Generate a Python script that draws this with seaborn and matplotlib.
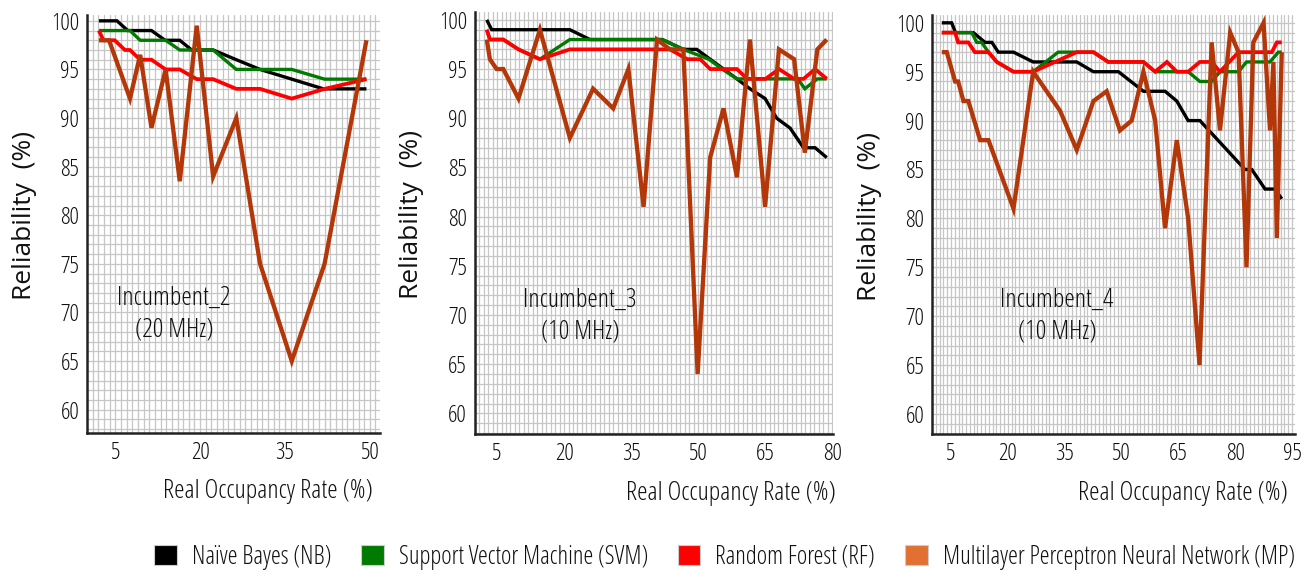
import matplotlib
matplotlib.use("Agg")
import matplotlib.pyplot as plt
from matplotlib.patches import Patch
from matplotlib.ticker import MultipleLocator
from matplotlib.font_manager import FontProperties
import pandas as pd
import seaborn as sns

# ---------------- data ----------------
models = ["Naïve Bayes (NB)", "Support Vector Machine (SVM)",
          "Random Forest (RF)", "Multilayer Perceptron Neural Network (MP)"]
line_colors = ["#000000", "#007A00", "#FF0000", "#B4370A"]
legend_colors = ["#000000", "#007A00", "#FF0000", "#E27032"]

# Incumbent_2 (20 MHz)
nb2_x = [2.1, 5.3, 7.2, 11.4, 13.8, 16.4, 18.5, 22.3, 26.4, 30.6, 36.2, 41.8, 49.4]
nb2_y = [100, 100, 99, 99, 98, 98, 97, 97, 96, 95, 94, 93, 93]
svm2_x = [2.1, 7.6, 9.4, 13.9, 16.4, 22.3, 26.4, 36.2, 42.0, 49.4]
svm2_y = [99, 99, 98, 98, 97, 97, 95, 95, 94, 94]
rf2_x = [2.1, 2.9, 4.9, 6.7, 7.6, 9.4, 11.4, 13.9, 16.4, 19.4, 22.3, 26.4, 30.6, 36.2, 42.0, 49.4]
rf2_y = [99, 98, 98, 97, 97, 96, 96, 95, 95, 94, 94, 93, 93, 92, 93, 94]
mp2_x = [2.1, 3.9, 7.6, 9.4, 11.4, 13.9, 16.4, 19.4, 22.3, 26.4, 30.6, 36.2, 42.0, 49.4]
mp2_y = [98, 98, 92, 96.5, 89, 95, 83.5, 99.5, 84, 90, 75, 65, 75, 98]

# Incumbent_3 (10 MHz)
nb3_x = [2.7, 3.8, 21.3, 25.8, 42.0, 46.7, 49.7, 52.7, 58.7, 61.6, 65.0, 67.6, 70.6, 73.6, 76.2, 78.8]
nb3_y = [100, 99, 99, 98, 98, 97, 97, 96, 94, 93, 92, 90, 89, 87, 87, 86]
svm3_x = [2.7, 3.4, 6.4, 9.8, 14.6, 21.3, 42.0, 46.7, 52.4, 55.4, 58.7, 72.3, 73.9, 76.7, 78.8]
svm3_y = [99, 98, 98, 97, 96, 98, 98, 97, 96, 95, 94, 94, 93, 94, 94]
rf3_x = [2.7, 3.4, 6.4, 9.8, 14.6, 21.3, 43.7, 47.6, 50.5, 52.7, 58.7, 61.0, 65.1, 68.1, 71.5, 73.6, 76.2, 78.8]
rf3_y = [99, 98, 98, 97, 96, 97, 97, 96, 96, 95, 95, 94, 94, 95, 94, 94, 95, 94]
mp3_x = [2.7, 3.4, 4.9, 6.4, 9.8, 14.6, 21.3, 26.5, 31.0, 34.4, 37.8, 40.8, 43.7, 46.7, 49.9,
         52.7, 55.7, 58.7, 61.6, 65.0, 68.1, 71.5, 73.9, 76.7, 78.8]
mp3_y = [98, 96, 95, 95, 92, 99, 88, 93, 91, 95, 81, 98, 97, 97, 64,
         86, 91, 84, 98, 81, 97, 96, 86.5, 97, 98]

# Incumbent_4 (10 MHz)
nb4_x = [2.6, 5.2, 6.2, 10.9, 14.0, 15.8, 17.5, 21.5, 26.7, 38.2, 42.6, 49.2, 55.8, 61.5,
         64.6, 67.6, 70.7, 82.6, 84.4, 87.9, 90.5, 92.3]
nb4_y = [100, 100, 99, 99, 98, 98, 97, 97, 96, 96, 95, 95, 93, 93,
         92, 90, 90, 85, 85, 83, 83, 82]
svm4_x = [2.6, 6.2, 10.5, 11.8, 13.1, 14.9, 17.1, 21.5, 26.7, 33.3, 42.6, 46.5, 55.8, 58.9,
          67.6, 70.7, 73.8, 76.0, 80.9, 83.0, 89.2, 91.4, 92.3]
svm4_y = [99, 99, 99, 98, 98, 97, 96, 95, 95, 97, 97, 96, 96, 95,
          95, 94, 94, 95, 95, 96, 96, 97, 97]
rf4_x = [2.6, 6.1, 6.9, 9.6, 11.3, 14.9, 17.1, 21.5, 26.7, 38.2, 42.6, 46.5, 55.8, 58.9,
         62.0, 64.6, 67.6, 70.7, 73.8, 76.0, 80.9, 89.7, 91.0, 92.3]
rf4_y = [99, 99, 98, 98, 97, 97, 96, 95, 95, 97, 97, 96, 96, 95,
         96, 95, 95, 96, 96, 95, 97, 97, 98, 98]
mp4_x = [2.6, 3.9, 6.1, 6.9, 8.3, 9.6, 12.7, 14.9, 21.5, 26.7, 33.8, 38.2, 42.6, 46.1, 49.6,
         52.7, 55.8, 58.9, 61.5, 64.6, 67.6, 70.6, 73.8, 76.0, 78.7, 80.9, 83.0, 84.8, 87.5,
         89.2, 90.1, 91.0, 92.3]
mp4_y = [97, 97, 94, 94, 92, 92, 88, 88, 81, 95, 91, 87, 92, 93, 89,
         90, 95, 90, 79, 88, 80, 65, 98, 89, 99, 97, 75, 98, 100,
         89, 96, 78, 97]

panel_titles = ["Incumbent_2\n(20 MHz)", "Incumbent_3\n(10 MHz)", "Incumbent_4\n(10 MHz)"]
x_ticks = [[5, 20, 35, 50], [5, 20, 35, 50, 65, 80], [5, 20, 35, 50, 65, 80, 95]]
y_ticks = [60, 65, 70, 75, 80, 85, 90, 95, 100]

panels = [
    [(nb2_x, nb2_y), (svm2_x, svm2_y), (rf2_x, rf2_y), (mp2_x, mp2_y)],
    [(nb3_x, nb3_y), (svm3_x, svm3_y), (rf3_x, rf3_y), (mp3_x, mp3_y)],
    [(nb4_x, nb4_y), (svm4_x, svm4_y), (rf4_x, rf4_y), (mp4_x, mp4_y)],
]

# ---------------- style ----------------
sns.set_theme(style="white")
plt.rcParams["font.family"] = ["Open Sans", "DejaVu Sans"]
plt.rcParams["font.stretch"] = "condensed"
plt.rcParams["text.color"] = "#111111"
plt.rcParams["axes.labelcolor"] = "#111111"
plt.rcParams["xtick.color"] = "#111111"
plt.rcParams["ytick.color"] = "#111111"

# the vertical axis titles use the regular-width face
ylabel_font = FontProperties(family=["Open Sans", "DejaVu Sans"], stretch="normal",
                             weight="normal", size=19)

W, H = 1310, 584
fig = plt.figure(figsize=(W / 100, H / 100), dpi=100)

# axes boxes in pixels: left, right, top, bottom
boxes = [(87, 380, 15, 433), (474.7, 833, 12, 434), (932, 1295, 15, 434)]
xlims = [(0, 51.8), (0, 80.2), (0, 95.8)]
ylims = [(57.6, 100.6), (57.9, 100.8), (57.95, 100.8)]
ylabel_x = [-0.215, -0.175, -0.171]
xlabel_x = [0.616, 0.715, 0.691]
title_pos = [(15.4, 69.8), (23.6, 69.9), (33.0, 70.0)]
line_widths = [2.4, 2.4, 2.7, 3.1]

fs = 17
for i, series in enumerate(panels):
    l, r, t, b = boxes[i]
    ax = fig.add_axes([l / W, (H - b) / H, (r - l) / W, (b - t) / H])

    rows = []
    for name, (xs, ys) in zip(models, series):
        rows += [{"rate": x, "reliability": y, "model": name} for x, y in zip(xs, ys)]
    df = pd.DataFrame(rows)
    sns.lineplot(data=df, x="rate", y="reliability", hue="model", hue_order=models,
                 palette=line_colors, estimator=None, sort=False, legend=False, ax=ax)
    for ln, lw in zip(ax.lines, line_widths):
        ln.set_linewidth(lw)
        ln.set_solid_joinstyle("miter")
        ln.set_solid_capstyle("butt")

    ax.set_xlim(*xlims[i])
    ax.set_ylim(*ylims[i])
    ax.set_xticks(x_ticks[i])
    ax.set_yticks(y_ticks)
    ax.xaxis.set_minor_locator(MultipleLocator(1))
    ax.yaxis.set_minor_locator(MultipleLocator(1))
    ax.grid(which="both", color="#c6c6c6", linewidth=0.9)
    ax.set_axisbelow(True)

    for side in ("top", "right"):
        ax.spines[side].set_visible(False)
    for side in ("left", "bottom"):
        ax.spines[side].set_linewidth(1.8)
        ax.spines[side].set_color("#222222")

    ax.tick_params(axis="x", which="major", direction="in", length=7.5, width=1.4,
                   labelsize=fs, pad=6)
    ax.tick_params(axis="y", which="major", direction="inout", length=7, width=1.4,
                   labelsize=fs, pad=2)
    ax.tick_params(which="minor", length=0)

    ax.set_xlabel("Real Occupancy Rate (%)", fontsize=fs + 2)
    ax.set_ylabel("Reliability  (%)", fontproperties=ylabel_font)
    ax.xaxis.set_label_coords(xlabel_x[i], -0.141)
    ax.xaxis.label.set_va("center")
    ax.yaxis.set_label_coords(ylabel_x[i], 0.52)
    ax.yaxis.label.set_va("center")

    tx, ty = title_pos[i]
    ax.text(tx, ty, panel_titles[i], ha="center", va="center", fontsize=fs + 2,
            linespacing=1.35)

handles = [Patch(facecolor=c, edgecolor="#cccccc", linewidth=0.8) for c in legend_colors]
fig.legend(handles, models, loc="center", bbox_to_anchor=(0.553, 0.046), ncol=4,
           frameon=False, fontsize=fs + 1, handlelength=0.9, handleheight=0.9,
           handletextpad=0.6, columnspacing=1.2, borderaxespad=0)

fig.savefig("out.png", dpi=100)
